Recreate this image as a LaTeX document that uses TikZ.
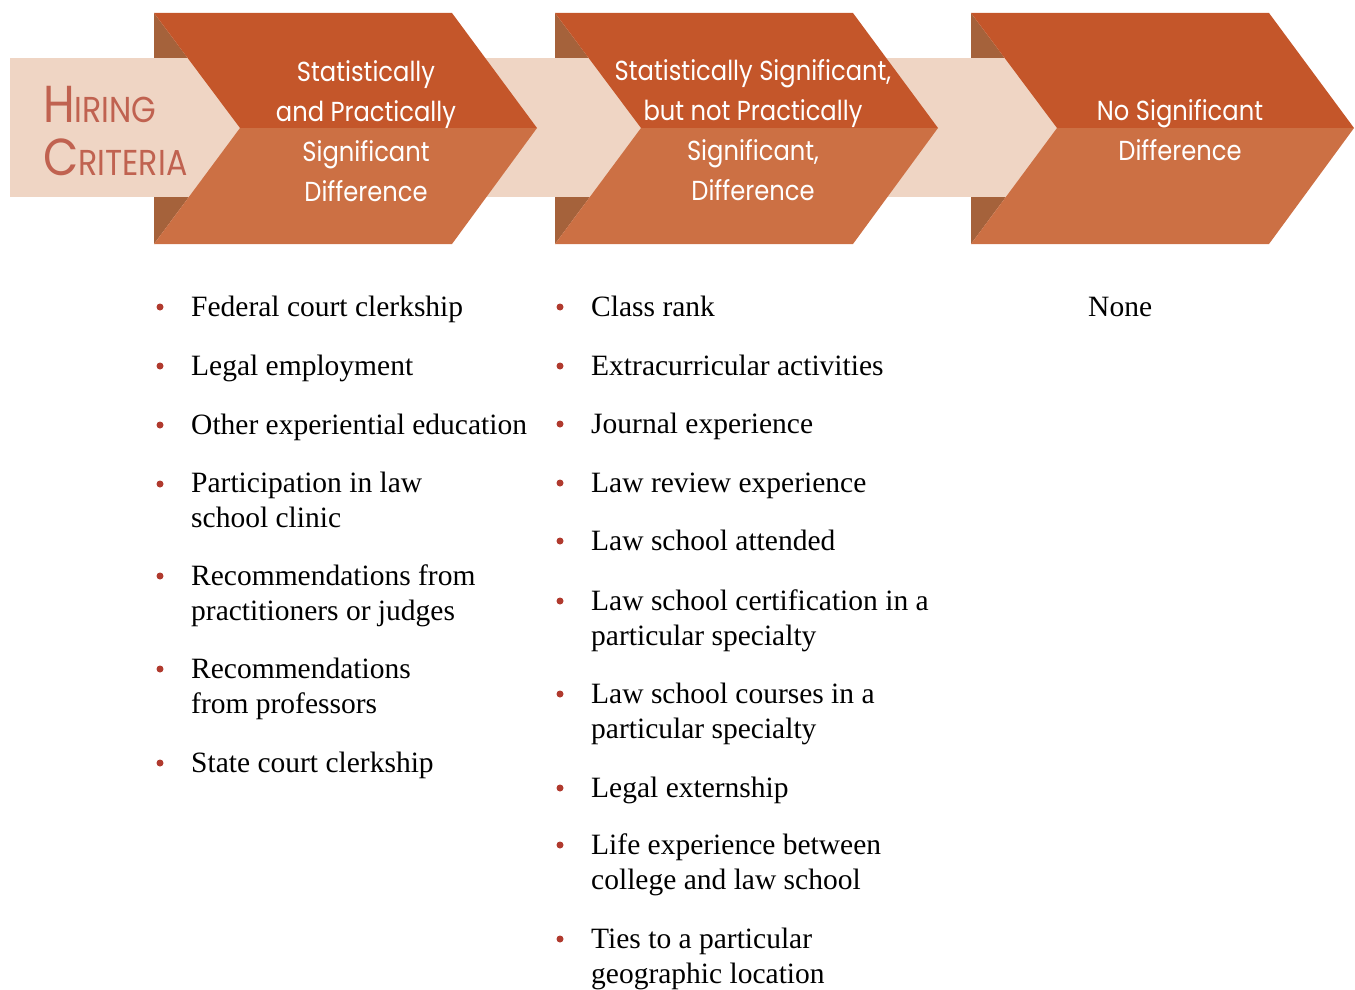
\documentclass[tikz,border=0pt]{standalone}
\usepackage{fontspec}
\setmainfont{Liberation Serif}
\newfontfamily\hdfont[FakeStretch=0.88]{Poppins}
\newfontfamily\hirefont[FakeStretch=0.88]{Poppins}
\definecolor{cTop}{RGB}{196,86,42}
\definecolor{cBot}{RGB}{204,112,68}
\definecolor{cDark}{RGB}{165,98,59}
\definecolor{cBand}{RGB}{239,213,196}
\definecolor{cHire}{RGB}{192,98,80}
\definecolor{cBullet}{RGB}{176,58,46}
\tikzset{
  hdtext/.style={anchor=base, align=center, text=white, inner sep=0pt,
    font=\hdfont\fontsize{27.5}{40}\selectfont},
  itemtext/.style={anchor=base west, align=left, inner sep=0pt, text=black,
    font=\fontsize{29.5}{35}\selectfont},
  bulletdot/.style={circle, fill=cBullet, inner sep=0pt, minimum size=7pt},
}
\newcommand{\bitem}[5]{% name, x of dot, first baseline y, last baseline y, text
  \node[bulletdot] (#1d) at (#2,#3-9) {};
  \node[itemtext] (#1) at (#2+31,#4) {#5};
}
\begin{document}
\begin{tikzpicture}[x=1pt,y=-1pt]
\useasboundingbox (0,0) rectangle (1355,990);
% dark notch triangles
\foreach \L in {154,555,971}{
  \fill[cDark] (\L,13) -- ({\L+86},128) -- (\L,244) -- cycle;
}
% band
\fill[cBand] (10,58) rectangle (1057,197);
% chevron fronts
\foreach \L in {154,555,971}{
  \fill[cTop] (\L,13) -- ({\L+298},13) -- ({\L+383},128) -- ({\L+86},128) -- cycle;
  \fill[cBot] ({\L+86},128) -- ({\L+383},128) -- ({\L+298},244) -- (\L,244) -- cycle;
}
% hiring criteria
\node[anchor=base west, inner sep=0pt, text=cHire, align=left,
  font=\hirefont\fontsize{52}{53}\selectfont] (hire) at (43,175)
  {H{\fontsize{36}{53}\selectfont IRING}\\C{\fontsize{36}{53}\selectfont RITERIA}};
% headers
\node[hdtext] (h1) at (366,201) {Statistically\\and Practically\\Significant\\Difference};
\node[hdtext] (h2) at (753,200) {Statistically Significant,\\but not Practically\\Significant,\\Difference};
\node[hdtext] (h3) at (1180,160) {No Significant\\Difference};
% column 1
\bitem{a1}{160}{316}{316}{Federal court clerkship}
\bitem{a2}{160}{375}{375}{Legal employment}
\bitem{a3}{160}{434}{434}{Other experiential education}
\bitem{a4}{160}{493}{527}{Participation in law\\school clinic}
\bitem{a5}{160}{585}{620}{Recommendations from\\practitioners or judges}
\bitem{a6}{160}{678}{713}{Recommendations\\from professors}
\bitem{a7}{160}{772}{772}{State court clerkship}
% column 2
\bitem{b1}{560}{316}{316}{Class rank}
\bitem{b2}{560}{375}{375}{Extracurricular activities}
\bitem{b3}{560}{433}{433}{Journal experience}
\bitem{b4}{560}{492}{492}{Law review experience}
\bitem{b5}{560}{550}{550}{Law school attended}
\bitem{b6}{560}{610}{645}{Law school certification in a\\particular specialty}
\bitem{b7}{560}{703}{738}{Law school courses in a\\particular specialty}
\bitem{b8}{560}{797}{797}{Legal externship}
\bitem{b9}{560}{854}{889}{Life experience between\\college and law school}
\bitem{b10}{560}{948}{983}{Ties to a particular\\geographic location}
% column 3
\node[itemtext] (c1) at (1088,316) {None};
\end{tikzpicture}
\end{document}
